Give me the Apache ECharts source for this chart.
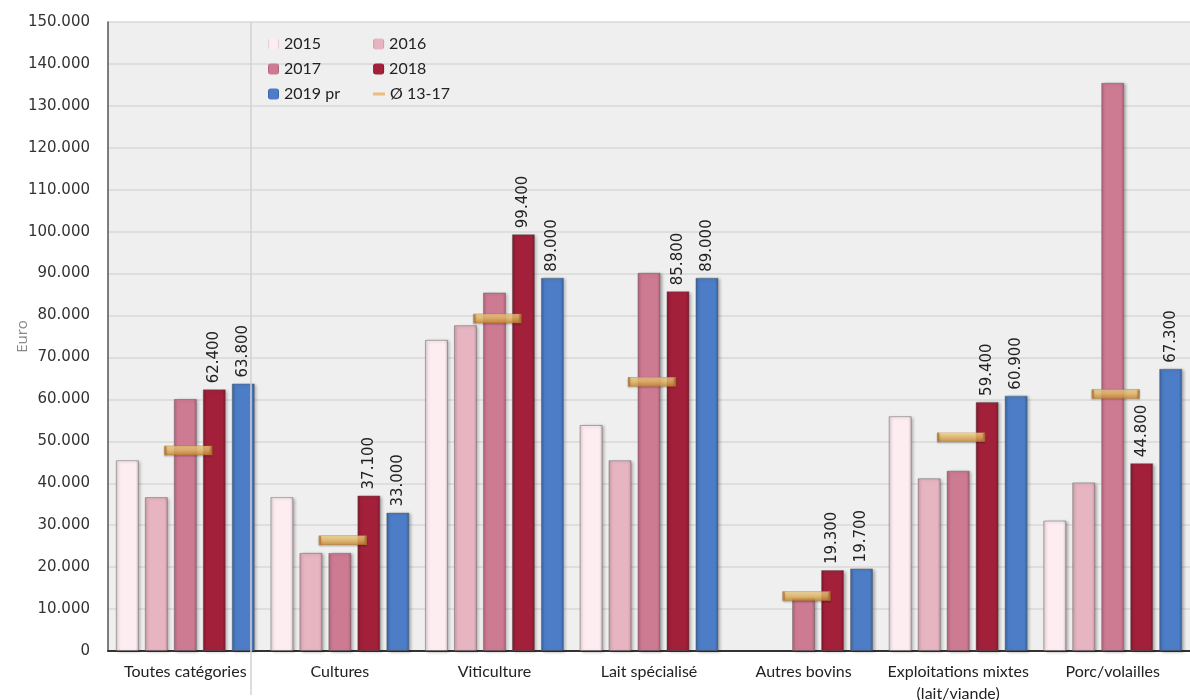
<!DOCTYPE html>
<html>
<head>
<meta charset="utf-8">
<script src="https://cdn.jsdelivr.net/npm/echarts@6/dist/echarts.min.js"></script>
<style>
    html, body { margin: 0; padding: 0; background: #fff; }
    #chart { width: 1190px; height: 700px; }
</style>
</head>
<body>
<div id="chart"></div>
<script>
// catégories (axe x)
const categories = ['Toutes catégories', 'Cultures', 'Viticulture', 'Lait spécialisé', 'Autres bovins', 'Exploitations mixtes\n(lait/viande)', 'Porc/volailles'];

// valeurs par année (euro)
const y2015 = [45500, 36700, 74200, 53900, null, 56000, 31100];
const y2016 = [36700, 23400, 77700, 45500, null, 41200, 40200];
const y2017 = [60100, 23400, 85500, 90200, 12600, 43000, 135500];
const y2018 = [62400, 37100, 99400, 85800, 19300, 59400, 44800];
const y2019 = [63800, 33000, 89000, 89000, 19700, 60900, 67300];
const avg1317 = [47800, 26400, 79300, 64200, 13100, 51000, 61300];

const fmt = v => String(v).replace(/\B(?=(\d{3})+(?!\d))/g, '.');

// dégradé horizontal pour l'effet "biseau"
const barFill = (edge, mid) => new echarts.graphic.LinearGradient(0, 0, 1, 0, [
    { offset: 0, color: edge },
    { offset: 0.15, color: mid },
    { offset: 0.85, color: mid },
    { offset: 1, color: edge },
]);

const barLabel = {
    show: true,
    position: 'top',
    rotate: 90,
    align: 'left',
    verticalAlign: 'middle',
    distance: 6,
    fontFamily: 'DejaVu Sans',
    fontSize: 15,
    color: '#222',
    formatter: p => fmt(p.value),
};

const mkBar = (name, data, edge, mid, withLabel) => ({
    name: name,
    type: 'bar',
    data: data,
    barWidth: 23,
    barGap: '26%',
    itemStyle: {
        color: barFill(edge, mid),
        borderColor: 'rgba(90,90,90,0.45)',
        borderWidth: 1,
        shadowBlur: 3,
        shadowOffsetX: 2,
        shadowOffsetY: 1,
        shadowColor: 'rgba(0,0,0,0.3)',
    },
    label: withLabel ? barLabel : { show: false },
    emphasis: { disabled: true },
});

const legendText = { fontFamily: 'Lato', fontSize: 16, color: '#222' };
const legendIcon = { borderWidth: 0, shadowBlur: 0 };

const chart = echarts.init(document.getElementById('chart'), null, { renderer: 'canvas' });

const option = {
    animation: false,
    backgroundColor: '#fff',
    grid: {
        left: 108,
        right: 0,
        top: 22,
        bottom: 49,
        outerBoundsMode: 'none',
        containLabel: false,
        show: true,
        backgroundColor: '#efefef',
        borderWidth: 0,
    },
    legend: [
        { left: 263, top: 31, itemWidth: 11, itemHeight: 11, itemGap: 52, itemStyle: legendIcon, textStyle: legendText, data: ['2015', '2016'] },
        { left: 263, top: 56, itemWidth: 11, itemHeight: 11, itemGap: 52, itemStyle: legendIcon, textStyle: legendText, data: ['2017', '2018'] },
        { left: 263, top: 81, itemWidth: 11, itemHeight: 11, itemStyle: legendIcon, textStyle: legendText, data: ['2019 pr'] },
        { left: 368, top: 81, itemWidth: 12, itemHeight: 3, textStyle: legendText, data: [{ name: 'Ø 13-17', icon: 'rect', itemStyle: { color: '#e8b060', borderWidth: 0, shadowBlur: 0 } }] },
    ],
    xAxis: {
        type: 'category',
        data: categories,
        axisLine: { lineStyle: { color: '#333', width: 2 } },
        axisTick: { show: false },
        axisLabel: { fontFamily: 'Lato', fontSize: 16, color: '#222', margin: 10, lineHeight: 22, interval: 0 },
    },
    yAxis: {
        type: 'value',
        min: 0,
        max: 150000,
        interval: 10000,
        name: 'Euro',
        nameLocation: 'middle',
        nameGap: 78,
        nameMoveOverlap: false,
        nameTextStyle: { fontFamily: 'Open Sans', fontSize: 15, color: '#888' },
        axisLine: { show: true, lineStyle: { color: '#555', width: 1.5 } },
        axisTick: { show: false },
        splitLine: { lineStyle: { color: '#d8d8d8', width: 1.5 } },
        axisLabel: { fontFamily: 'DejaVu Sans', fontSize: 15, color: '#333', margin: 18, formatter: v => fmt(v) },
    },
    series: [
        mkBar('2015', y2015, '#d9c3c9', '#fdedf1', false),
        mkBar('2016', y2016, '#c996a4', '#e7b5c2', false),
        mkBar('2017', y2017, '#b05f78', '#cd7b93', false),
        mkBar('2018', y2018, '#7e1428', '#a3203a', true),
        mkBar('2019 pr', y2019, '#345f9e', '#4c7dc6', true),
        {
            name: 'Ø 13-17',
            type: 'scatter',
            data: avg1317,
            symbol: 'rect',
            symbolSize: [46, 9],
            symbolOffset: [3, 0],
            z: 5,
            itemStyle: {
                color: new echarts.graphic.LinearGradient(0, 0, 0, 1, [
                    { offset: 0, color: '#f8dc96' },
                    { offset: 0.5, color: '#eab862' },
                    { offset: 1, color: '#c98838' },
                ]),
                borderColor: '#b57a32',
                borderWidth: 1,
                shadowBlur: 2,
                shadowOffsetY: 1,
                shadowColor: 'rgba(0,0,0,0.3)',
            },
            emphasis: { disabled: true },
        },
    ],
    graphic: [
        {
            type: 'line',
            shape: { x1: 251, y1: 22, x2: 251, y2: 695 },
            style: { stroke: '#d2d2d2', lineWidth: 1.5 },
            z: 100,
        },
    ],
};

chart.setOption(option);
</script>
</body>
</html>
